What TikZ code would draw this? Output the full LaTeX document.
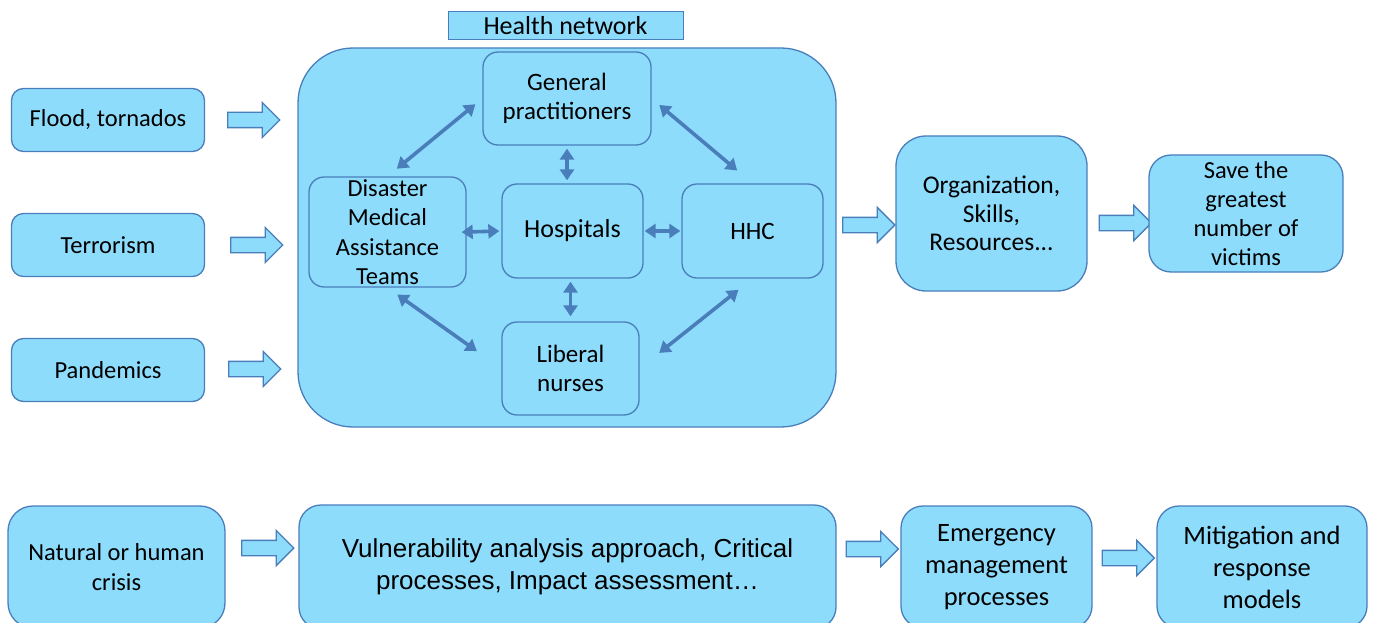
\documentclass[tikz,border=0pt]{standalone}
\usepackage{fontspec}
\setmainfont{Carlito}
\newfontfamily\arialfont{Liberation Sans}
\usetikzlibrary{shapes.arrows,arrows.meta}
\definecolor{boxfill}{RGB}{142,220,252}
\definecolor{boxline}{RGB}{74,126,187}
\tikzset{
  box/.style={draw=boxline, fill=boxfill, line width=1.3pt, rounded corners=12pt,
    align=center, inner sep=0pt, font=\fontsize{25}{29}\selectfont},
  bigtext/.style={font=\fontsize{26.5}{32}\selectfont},
  bigarrow/.style={single arrow, draw=boxline, fill=boxfill, line width=1.3pt,
    minimum height=52pt, minimum width=34pt, single arrow head extend=10pt, inner sep=7pt},
  link/.style={boxline, line width=3.6pt, {Triangle[length=11pt,width=14pt]}-{Triangle[length=11pt,width=14pt]}},
}
\begin{document}
\begin{tikzpicture}[x=1pt, y=-1pt]
\useasboundingbox (0,0) rectangle (1374,623);
% upper chain
\node[box, font=\fontsize{24.5}{29}\selectfont, minimum width=193, minimum height=63] (flood) at (108,120) {Flood, tornados};
\node[box, font=\fontsize{24.5}{29}\selectfont, minimum width=193, minimum height=63] (terror) at (108,245) {Terrorism};
\node[box, font=\fontsize{24.5}{29}\selectfont, minimum width=193, minimum height=63] (pandemic) at (108,370) {Pandemics};
\node[bigarrow] (a1) at (250,120) {};
\node[bigarrow] (a2) at (253,245) {};
\node[bigarrow] (a3) at (251,369) {};
% health network
\node[box, rounded corners=55pt, minimum width=538, minimum height=379] (net) at (567,237.5) {};
\node[box, rounded corners=0pt, line width=1pt, minimum width=235, minimum height=28, font=\fontsize{26}{29}\selectfont] (title) at (565.5,26) {Health network};
\node[box, rounded corners=15pt, minimum width=168, minimum height=93] (gp) at (567,98.5) {General\\practitioners};
\node[box, rounded corners=15pt, minimum width=157, minimum height=110, font=\fontsize{24.5}{29.5}\selectfont] (dmat) at (387.5,232) {Disaster\\Medical\\Assistance\\Teams};
\node[box, rounded corners=15pt, minimum width=141, minimum height=94, font=\fontsize{26}{29}\selectfont] (hosp) at (572.5,231) {Hospitals};
\node[box, rounded corners=15pt, minimum width=141, minimum height=94] (hhc) at (752.5,231) {HHC};
\node[box, rounded corners=15pt, minimum width=137, minimum height=93] (nurses) at (570.5,368.5) {Liberal\\nurses};
\draw[link, shorten <=9pt, shorten >=12pt] (gp.west) -- (dmat.north);
\draw[link, shorten <=10pt, shorten >=20pt] (gp.east) -- (hhc.north);
\draw[link, shorten <=3pt, shorten >=3pt] (gp.south) -- (gp.south |- hosp.north);
\draw[link, shorten <=-5pt, shorten >=2pt] (dmat.east) -- (hosp.west);
\draw[link, shorten <=1pt, shorten >=1pt] (hosp.east |- hhc.west) -- (hhc.west);
\draw[link, shorten <=3pt, shorten >=5pt] (nurses.north |- hosp.south) -- (nurses.north);
\draw[link, shorten <=12pt, shorten >=30pt] (dmat.south) -- (nurses.west);
\draw[link, shorten <=18pt, shorten >=25pt] (hhc.south) -- (nurses.east);
\node[bigarrow] (a4) at (865,225) {};
\node[box, font=\fontsize{25.5}{28.5}\selectfont, rounded corners=30pt, minimum width=191, minimum height=155] (org) at (991.5,213.5) {Organization,\\Skills,\\Resources...};
\node[bigarrow] (a5) at (1121.5,223) {};
\node[box, font=\fontsize{24.5}{29}\selectfont, rounded corners=22pt, minimum width=194, minimum height=117] (save) at (1246,213.5) {Save the\\greatest\\number of\\victims};
% lower chain
\node[box, rounded corners=25pt, minimum width=217, minimum height=122, font=\fontsize{24.5}{30}\selectfont] (crisis) at (116.5,567) {Natural or human\\crisis};
\node[bigarrow] (a6) at (264,548) {};
\node[box, font=\arialfont\fontsize{26}{32}\selectfont, rounded corners=22pt, minimum width=537, minimum height=124] (vuln) at (567.5,567) {Vulnerability analysis approach, Critical\\processes, Impact assessment\dots};
\node[bigarrow] (a7) at (868.5,549) {};
\node[box, bigtext, rounded corners=22pt, minimum width=191, minimum height=122] (emerg) at (996.5,567) {Emergency\\management\\processes};
\node[bigarrow] (a8) at (1124.5,558) {};
\node[box, bigtext, rounded corners=22pt, minimum width=210, minimum height=122] (models) at (1262,567) {Mitigation and\\response\\models};
\end{tikzpicture}
\end{document}
